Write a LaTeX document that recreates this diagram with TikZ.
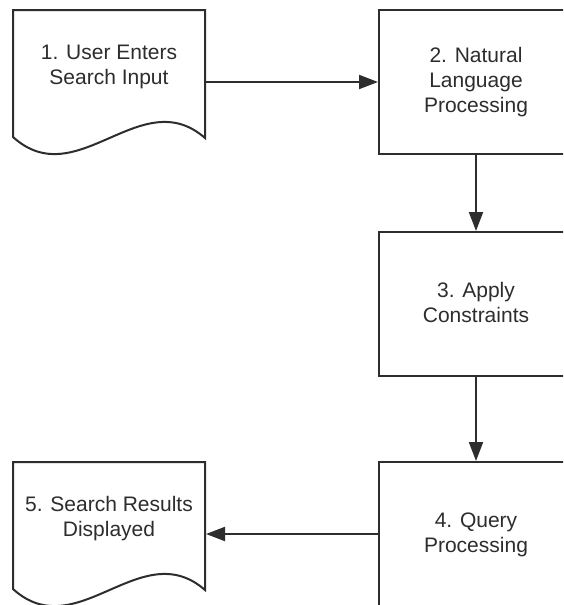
\documentclass[tikz,border=0pt]{standalone}
\usepackage{fontspec}
\setmainfont{Liberation Sans}
\usetikzlibrary{arrows.meta}
\definecolor{linec}{RGB}{45,45,45}
\definecolor{textc}{RGB}{45,45,45}
\newcommand{\ls}{\rule[-5pt]{0pt}{21pt}}
\tikzset{
  procbox/.style={draw=linec, line width=2pt, rectangle, minimum width=194pt, minimum height=144pt, inner sep=0pt},
  docnode/.style={rectangle, minimum width=192pt, minimum height=144pt, inner sep=0pt, outer sep=1pt},
  docline/.style={draw=linec, line width=2pt, line join=miter},
  lbl/.style={text=textc, font=\fontsize{21}{25}\selectfont, align=center, inner sep=0pt},
  conn/.style={draw=linec, line width=2pt, -{Triangle[length=19pt,width=14pt]}}
}
\begin{document}
\begin{tikzpicture}[x=1pt,y=-1pt]
\path[use as bounding box, fill=white] (0,0) rectangle (563,605);
\clip (0,0) rectangle (563,605);
% documents
\node[docnode] (n1) at (109,82) {};
\node[docnode] (n5) at (109,534) {};
\draw[docline] (13,137) -- (13,10) -- (205,10) -- (205,138)
  .. controls (141,82) and (77,195) .. cycle;
\draw[docline] (13,589) -- (13,462) -- (205,462) -- (205,590)
  .. controls (141,534) and (77,647) .. cycle;
\node[lbl] (t1) at (109,66) {\ls 1. User Enters\\\ls Search Input};
\node[lbl] (t5) at (109,518) {\ls 5. Search Results\\\ls Displayed};
% process boxes
\node[procbox] (n2) at (476,82) {};
\node[procbox] (n3) at (476,304) {};
\node[procbox] (n4) at (476,534) {};
\node[lbl] (t2) at (n2.center) {\ls 2. Natural\\\ls Language\\\ls Processing};
\node[lbl] (t3) at (n3.center) {\ls 3. Apply\\\ls Constraints};
\node[lbl] (t4) at (n4.center) {\ls 4. Query\\\ls Processing};
% connectors
\draw[conn] (n1.east) -- (n2.west);
\draw[conn] (n2.south) -- (n3.north);
\draw[conn] (n3.south) -- (n4.north);
\draw[conn] (n4.west) -- (n5.east);
\end{tikzpicture}
\end{document}
